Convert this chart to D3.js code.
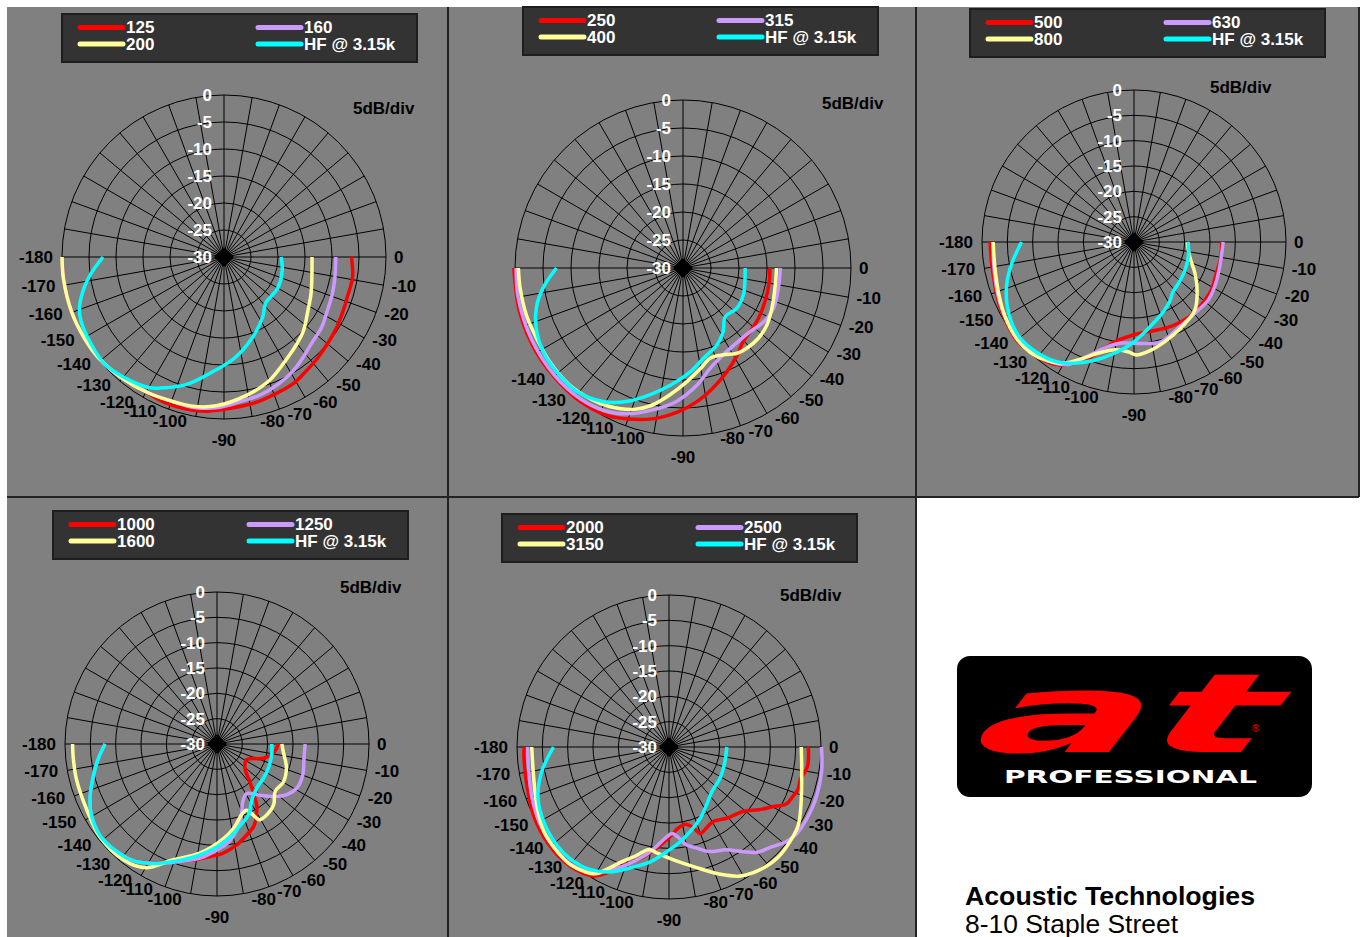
<!DOCTYPE html>
<html>
<head>
<meta charset="utf-8">
<script src="https://cdn.jsdelivr.net/npm/d3@7"></script>
<style>
  html, body { margin: 0; padding: 0; background: #fff; }
  svg { display: block; }
  text { font-family: "Liberation Sans", Arial, sans-serif; }
</style>
</head>
<body>
<div id="chart"></div>
<script>
// polar response plots, angle in degrees (0 = right, -90 = down), level in dB
const dbTicks = [0, -5, -10, -15, -20, -25, -30];
const angleTicks = [0, -10, -20, -30, -40, -50, -60, -70, -80, -90, -100, -110, -120, -130, -140, -150, -160, -170, -180];
const seriesColors = ['#ff0000', '#cc99ff', '#ffff99', '#00ffff'];

const legend1 = ['125', '160', '200', 'HF @ 3.15k'];
const legend2 = ['250', '315', '400', 'HF @ 3.15k'];
const legend3 = ['500', '630', '800', 'HF @ 3.15k'];
const legend4 = ['1000', '1250', '1600', 'HF @ 3.15k'];
const legend5 = ['2000', '2500', '3150', 'HF @ 3.15k'];

// panel 1
const f125 = [[0,-6.4],[-9,-5.9],[-17,-6.0],[-24,-5.8],[-32,-5.4],[-40,-5.0],[-47,-4.5],[-54,-4.0],[-61,-3.3],[-70,-2.9],[-78,-2.4],[-87,-2.0],[-96,-1.3],[-104,-1.0],[-112,-0.9],[-119,-1.1],[-130,-0.7],[-141,-0.2],[-150,-0.1],[-160,0],[-172,0],[-180,0]];
const f160 = [[0,-9.3],[-11,-9.1],[-19,-8.8],[-28,-8.4],[-36,-7.7],[-45,-7.2],[-52,-6.3],[-59,-5.3],[-67,-4.4],[-75,-3.6],[-83,-3.1],[-92,-2.1],[-101,-1.6],[-110,-1.6],[-119,-1.2],[-130,-0.7],[-141,-0.2],[-150,-0.1],[-160,0],[-172,0],[-180,0]];
const f200 = [[0,-13.7],[-13,-13.3],[-23,-12.5],[-33,-11.5],[-43,-9.9],[-50,-9.0],[-58,-7.9],[-70,-5.6],[-81,-4.0],[-93,-2.4],[-101,-1.8],[-110,-1.6],[-119,-1.2],[-130,-0.7],[-141,-0.2],[-150,-0.1],[-160,0],[-172,0],[-180,0]];
const hf1 = [[0,-19.4],[-14,-18.9],[-30,-18.5],[-37,-18.6],[-48,-18.5],[-57,-16.8],[-70,-14.3],[-84,-11.2],[-95,-8.8],[-106,-5.5],[-114,-3.5],[-120,-2.1],[-130,-1.0],[-138,-0.3],[-147,-0.6],[-156,-1.0],[-161,-1.7],[-168,-3.6],[-173,-5.2],[-180,-7.6]];

// panel 2
const f250 = [[0,-14.5],[-9,-14.4],[-22,-14.2],[-34,-13.8],[-43,-13.5],[-51,-13.0],[-58,-11.7],[-67,-9.9],[-76,-7.9],[-84,-6.0],[-92,-4.3],[-101,-2.6],[-110,-1.3],[-117,-0.4],[-125,0],[-135,0.1],[-150,0.2],[-165,0.2],[-180,0.2]];
const f315 = [[0,-12.6],[-12,-12.6],[-24,-12.3],[-34,-12.7],[-44,-13.5],[-52,-13.6],[-62,-13.2],[-75,-11.4],[-83,-9.0],[-93,-6.1],[-102,-4.1],[-111,-2.1],[-119,-0.9],[-128,-0.3],[-140,-0.1],[-155,-0.1],[-170,-0.1],[-180,-0.2]];
const f400 = [[0,-13.3],[-12,-13.2],[-24,-12.6],[-34,-11.9],[-43,-11.6],[-52,-11.7],[-58,-12.0],[-65,-12.9],[-73,-13.2],[-80,-11.8],[-88,-9.7],[-96,-7.2],[-103,-4.8],[-109,-3.3],[-118,-2.0],[-125,-1.4],[-134,-0.9],[-145,-0.9],[-154,-1.0],[-163,-0.8],[-173,-0.7],[-180,-0.6]];
const hf2 = [[0,-18.9],[-12,-18.7],[-24,-18.2],[-37,-18.0],[-49,-18.5],[-58,-16.5],[-66,-15.0],[-77,-13.5],[-86,-11.4],[-96,-9.0],[-105,-6.5],[-113,-4.1],[-121,-2.2],[-131,-0.9],[-141,-0.8],[-149,-0.9],[-158,-1.7],[-165,-2.9],[-172,-4.8],[-180,-7.4]];

// panel 3
const f500 = [[0,-12.7],[-10,-12.6],[-21,-12.6],[-32,-12.0],[-39,-11.9],[-49,-11.7],[-59,-11.7],[-70,-11.9],[-81,-12.1],[-91,-11.6],[-99,-10.4],[-105,-8.5],[-111,-5.5],[-118,-2.6],[-123,-1.2],[-131,-0.3],[-140,0.2],[-147,-0.2],[-154,-0.6],[-162,-1.2],[-172,-1.6],[-180,-1.6]];
const f630 = [[0,-12.4],[-16,-12.4],[-29,-11.8],[-38,-11.4],[-47,-11.5],[-60,-11.1],[-75,-9.6],[-86,-9.9],[-97,-9.9],[-104,-8.7],[-112,-5.7],[-118,-2.6],[-125,-1.2],[-133,-0.5],[-140,-0.1],[-147,-0.4],[-155,-0.9],[-163,-1.5],[-172,-2.0],[-180,-2.2]];
const f800 = [[0,-19.5],[-15,-18.6],[-27,-16.5],[-37,-14.4],[-48,-12.0],[-55,-11.3],[-63,-10.5],[-73,-9.4],[-81,-8.4],[-89,-7.7],[-93,-8.3],[-100,-8.4],[-108,-6.9],[-114,-4.8],[-120,-2.4],[-126,-1.0],[-133,-0.1],[-141,0],[-150,-0.6],[-159,-1.4],[-170,-2.1],[-180,-2.2]];
const hf3 = [[0,-19.3],[-15,-18.9],[-29,-18.5],[-43,-18.0],[-52,-17.5],[-59,-16.3],[-67,-15.1],[-75,-13.8],[-84,-11.9],[-91,-10.0],[-100,-7.7],[-108,-5.5],[-116,-3.4],[-122,-2.0],[-131,-1.0],[-139,-0.6],[-146,-1.0],[-154,-2.1],[-162,-3.6],[-170,-5.5],[-180,-7.8]];

// panel 4
const f1000 = [[0,-17.9],[-9,-18.7],[-17,-20.4],[-28,-23.4],[-41,-22.7],[-49,-20.1],[-53,-18.2],[-57,-15.6],[-61,-14.0],[-66,-12.2],[-72,-11.1],[-79,-9.7],[-87,-8.4],[-93,-7.8],[-102,-6.6],[-112,-5.0],[-118,-3.4],[-126,-1.6],[-133,-1.0],[-142,-0.7],[-148,-1.1],[-158,-3.0],[-166,-4.9],[-173,-6.4],[-180,-7.9]];
const f1250 = [[0,-12.6],[-9,-12.6],[-20,-12.0],[-29,-12.0],[-36,-13.0],[-43,-14.8],[-50,-16.8],[-59,-18.6],[-66,-17.5],[-71,-15.2],[-77,-12.6],[-84,-10.3],[-90,-9.1],[-98,-7.3],[-107,-5.8],[-118,-3.3],[-126,-1.6],[-133,-1.0],[-142,-0.7],[-151,-1.6],[-158,-3.0],[-166,-4.9],[-173,-6.4],[-180,-7.9]];
const f1600 = [[0,-17.2],[-7,-16.8],[-19,-15.5],[-30,-14.9],[-39,-15.2],[-47,-13.6],[-55,-12.9],[-61,-12.9],[-63,-14.3],[-66,-15.7],[-71,-15.2],[-79,-13.0],[-86,-11.3],[-99,-8.2],[-111,-5.5],[-120,-1.8],[-129,-0.6],[-142,-0.5],[-153,-1.2],[-166,-1.4],[-175,-1.5],[-180,-1.5]];
const hf4 = [[0,-19.2],[-11,-19.0],[-25,-18.8],[-37,-18.6],[-48,-18.3],[-58,-17.0],[-66,-14.7],[-75,-13.1],[-82,-11.5],[-90,-9.7],[-99,-7.8],[-109,-5.6],[-118,-3.3],[-126,-1.6],[-133,-1.0],[-142,-0.7],[-151,-1.6],[-158,-3.0],[-166,-4.9],[-173,-6.4],[-180,-7.9]];

// panel 5
const f2000 = [[0,-2.5],[-8,-2.4],[-14,-3.3],[-18,-3.2],[-22,-3.7],[-26,-4.3],[-30,-6.4],[-35,-8.4],[-41,-10.6],[-51,-11.9],[-59,-12.9],[-66,-12.3],[-70,-11.8],[-73,-13.3],[-78,-14.4],[-84,-13.8],[-89,-12.4],[-97,-9.9],[-103,-7.8],[-110,-5.3],[-116,-2.4],[-120,-0.6],[-127,0.4],[-138,0.6],[-151,0.1],[-164,-0.9],[-176,-1.3],[-180,-1.4]];
const f2500 = [[0,0.1],[-9,0.5],[-18,0.7],[-24,0.7],[-31,0.6],[-35,0.4],[-39,-0.3],[-45,-1.9],[-50,-2.9],[-55,-4.8],[-61,-6.8],[-69,-7.9],[-75,-9.4],[-80,-10.4],[-84,-12.0],[-88,-12.9],[-92,-12.1],[-97,-10.3],[-103,-7.9],[-110,-5.2],[-116,-2.9],[-120,-1.2],[-124,-0.4],[-130,0.2],[-140,0.1],[-150,-0.4],[-160,-1.2],[-170,-1.9],[-180,-2.1]];
const f3150 = [[0,-3.9],[-10,-3.4],[-24,-1.5],[-31,-0.2],[-36,0.2],[-45,0.6],[-54,0.1],[-61,-0.9],[-68,-2.9],[-78,-5.8],[-87,-7.6],[-97,-9.0],[-101,-9.4],[-107,-7.5],[-113,-5.2],[-117,-2.9],[-120,-1.1],[-124,-0.3],[-130,0.3],[-137,0.2],[-146,-0.2],[-157,-1.6],[-167,-2.6],[-180,-2.9]];
const hf5 = [[0,-18.6],[-14,-18.6],[-31,-18.2],[-46,-17.8],[-57,-16.4],[-66,-14.7],[-76,-12.8],[-84,-11.0],[-91,-9.4],[-99,-7.1],[-108,-4.9],[-115,-2.8],[-123,-1.2],[-130,-0.6],[-139,-0.6],[-149,-1.2],[-159,-2.3],[-169,-4.4],[-180,-7.2]];

// layout of the five plots on the page
const panels = [
  { cx: 224, cy: 257, R: 162, lx: 62,  ly: 14,  nx: 353, ny: 108, labels: legend1, series: [f125, f160, f200, hf1], hide: [] },
  { cx: 683, cy: 268, R: 168, lx: 523, ly: 7,   nx: 822, ny: 103, labels: legend2, series: [f250, f315, f400, hf2], hide: [-150, -160, -170, -180] },
  { cx: 1134, cy: 242, R: 152, lx: 970, ly: 9,  nx: 1210, ny: 87, labels: legend3, series: [f500, f630, f800, hf3], hide: [] },
  { cx: 217, cy: 744, R: 152, lx: 53,  ly: 511, nx: 340, ny: 587, labels: legend4, series: [f1000, f1250, f1600, hf4], hide: [] },
  { cx: 669, cy: 747, R: 152, lx: 502, ly: 514, nx: 780, ny: 595, labels: legend5, series: [f2000, f2500, f3150, hf5], hide: [] }
];

const W = 1362, H = 937;
const svg = d3.select('#chart').append('svg')
  .attr('width', W)
  .attr('height', H);

svg.append('rect').attr('width', W).attr('height', H).attr('fill', '#fff');

// gray panel area
svg.append('rect').attr('x', 7).attr('y', 7).attr('width', 1352).attr('height', 490).attr('fill', '#808080');
svg.append('rect').attr('x', 7).attr('y', 497).attr('width', 909).attr('height', 440).attr('fill', '#808080');

// panel borders
const borders = [[448, 7, 448, 937], [916, 7, 916, 937], [7, 497, 1359, 497], [1359, 7, 1359, 497]];
svg.selectAll('line.border').data(borders).join('line')
  .attr('x1', d => d[0]).attr('y1', d => d[1])
  .attr('x2', d => d[2]).attr('y2', d => d[3])
  .attr('stroke', '#222')
  .attr('stroke-width', 2);

const rad = deg => deg * Math.PI / 180;

function drawPanel(p) {
  const g = svg.append('g');
  const r = d3.scaleLinear().domain([-30, 0]).range([0, p.R]);
  const c = g.append('g').attr('transform', `translate(${p.cx},${p.cy})`);

  // rings
  c.selectAll('circle.ring').data(dbTicks.filter(d => d > -30)).join('circle')
    .attr('r', d => r(d))
    .attr('fill', 'none')
    .attr('stroke', '#000')
    .attr('stroke-width', 1);

  // spokes every 10 degrees
  c.selectAll('line.spoke').data(d3.range(0, 360, 10)).join('line')
    .attr('x1', 0).attr('y1', 0)
    .attr('x2', d => p.R * Math.cos(rad(d)))
    .attr('y2', d => -p.R * Math.sin(rad(d)))
    .attr('stroke', '#000')
    .attr('stroke-width', 1);

  c.append('path')
    .attr('d', d3.symbol(d3.symbolSquare, 190)())
    .attr('transform', 'rotate(45)')
    .attr('fill', '#000');

  // curves
  const line = d3.lineRadial()
    .angle(d => rad(90 - d[0]))
    .radius(d => r(d[1]))
    .curve(d3.curveCatmullRom.alpha(0.5));

  p.series.forEach((s, i) => {
    c.append('path')
      .attr('d', line(s))
      .attr('fill', 'none')
      .attr('stroke', seriesColors[i])
      .attr('stroke-width', 3.5)
      .attr('stroke-linejoin', 'round');
  });

  // dB labels along the vertical axis
  c.selectAll('text.db').data(dbTicks).join('text')
    .attr('x', -12)
    .attr('y', d => -r(d))
    .attr('dy', '0.35em')
    .attr('text-anchor', 'end')
    .style('font-size', '17px')
    .style('font-weight', 'bold')
    .attr('fill', '#fff')
    .text(d => d);

  // angle labels round the lower half
  const angles = angleTicks.filter(a => !p.hide.includes(a));
  c.selectAll('text.ang').data(angles).join('text')
    .attr('x', a => {
      const x = p.R * Math.cos(rad(a));
      if (a === -90) return x;
      if (a === -110) return x - 12;
      return a > -90 ? x + 8 : x - 9;
    })
    .attr('y', a => {
      const y = -p.R * Math.sin(rad(a));
      if (a === -90) return y + 21;
      if (a === -110) return y + 2;
      return y - 5 * Math.sin(rad(a));
    })
    .attr('dy', '0.35em')
    .attr('text-anchor', a => a === -90 ? 'middle' : (a > -90 ? 'start' : 'end'))
    .style('font-size', '17px')
    .style('font-weight', 'bold')
    .attr('fill', '#000')
    .text(a => a);

  g.append('text')
    .attr('x', p.nx)
    .attr('y', p.ny)
    .attr('dy', '0.35em')
    .style('font-size', '17px')
    .style('font-weight', 'bold')
    .attr('fill', '#000')
    .text('5dB/div');

  // legend
  const lg = g.append('g').attr('transform', `translate(${p.lx},${p.ly})`);
  lg.append('rect')
    .attr('width', 355)
    .attr('height', 48)
    .attr('fill', '#333')
    .attr('stroke', '#1e1e1e')
    .attr('stroke-width', 2);

  p.labels.forEach((lab, i) => {
    const col = i % 2, row = Math.floor(i / 2);
    const x0 = col === 0 ? 18 : 196;
    const y0 = row === 0 ? 13.5 : 30;
    lg.append('line')
      .attr('x1', x0).attr('x2', x0 + 43)
      .attr('y1', y0).attr('y2', y0)
      .attr('stroke', seriesColors[i])
      .attr('stroke-width', 5)
      .attr('stroke-linecap', 'round');
    lg.append('text')
      .attr('x', x0 + 46)
      .attr('y', y0)
      .attr('dy', '0.35em')
      .style('font-size', '17px')
      .style('font-weight', 'bold')
      .attr('fill', '#fff')
      .text(lab);
  });
}

panels.forEach(drawPanel);

// company logo and address
const logo = svg.append('g');
logo.append('rect')
  .attr('x', 957).attr('y', 656)
  .attr('width', 355).attr('height', 141)
  .attr('rx', 13)
  .attr('fill', '#000');

logo.append('g')
  .attr('transform', 'translate(972,752) skewX(-18)')
  .append('text')
  .attr('x', 0).attr('y', 0)
  .attr('textLength', 292)
  .attr('lengthAdjust', 'spacingAndGlyphs')
  .style('font-family', '"DejaVu Sans", sans-serif')
  .style('font-size', '110px')
  .style('font-weight', 'bold')
  .style('font-style', 'italic')
  .attr('fill', '#ff0000')
  .text('at');

logo.append('text')
  .attr('x', 1252).attr('y', 732)
  .style('font-size', '10px')
  .attr('fill', '#ff0000')
  .text('®');

logo.append('text')
  .attr('x', 1004).attr('y', 783)
  .attr('textLength', 253)
  .attr('lengthAdjust', 'spacingAndGlyphs')
  .style('font-family', '"DejaVu Sans", sans-serif')
  .style('font-size', '17px')
  .style('font-weight', 'bold')
  .attr('fill', '#fff')
  .text('PROFESSIONAL');

svg.append('text')
  .attr('x', 965).attr('y', 905)
  .attr('textLength', 290)
  .attr('lengthAdjust', 'spacingAndGlyphs')
  .style('font-size', '25px')
  .style('font-weight', 'bold')
  .attr('fill', '#000')
  .text('Acoustic Technologies');

svg.append('text')
  .attr('x', 965).attr('y', 933)
  .attr('textLength', 213)
  .attr('lengthAdjust', 'spacingAndGlyphs')
  .style('font-size', '25px')
  .attr('fill', '#000')
  .text('8-10 Staple Street');
</script>
</body>
</html>
